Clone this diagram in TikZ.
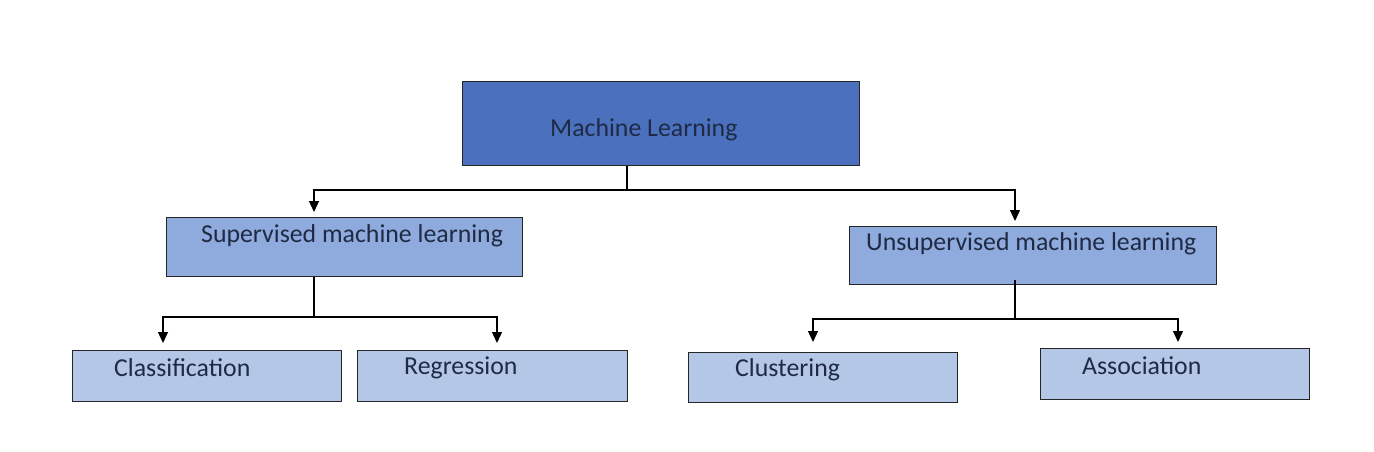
\documentclass[tikz,border=0pt]{standalone}
\usepackage{fontspec}
\setmainfont{Carlito}
\usetikzlibrary{arrows.meta}
\definecolor{topfill}{HTML}{4A70BE}
\definecolor{midfill}{HTML}{8FAADC}
\definecolor{lowfill}{HTML}{B4C7E7}
\definecolor{txt}{HTML}{1F2A44}
\tikzset{
  box/.style={draw=black!85, line width=1.3pt, inner sep=0pt},
  lbl/.style={anchor=west, inner sep=0pt, font=\fontsize{25.8}{30}\selectfont, text=txt},
  conn/.style={draw=black, line width=1.3pt},
  arr/.style={conn, -{Triangle[width=10pt,length=11pt]}}
}
\begin{document}
\begin{tikzpicture}[x=1pt,y=-1pt]
\useasboundingbox (0,0) rectangle (1374,452);
% boxes
\node[box, fill=topfill, minimum width=397pt, minimum height=84pt, anchor=north west] (ml) at (462,81) {};
\node[box, fill=midfill, minimum width=356pt, minimum height=59pt, anchor=north west] (sup) at (166,217) {};
\node[box, fill=midfill, minimum width=367pt, minimum height=58pt, anchor=north west] (uns) at (849,226) {};
\node[box, fill=lowfill, minimum width=269pt, minimum height=51pt, anchor=north west] (cla) at (72,350) {};
\node[box, fill=lowfill, minimum width=270pt, minimum height=51pt, anchor=north west] (reg) at (357,350) {};
\node[box, fill=lowfill, minimum width=269pt, minimum height=50pt, anchor=north west] (clu) at (688,352) {};
\node[box, fill=lowfill, minimum width=269pt, minimum height=51pt, anchor=north west] (ass) at (1040,348) {};
% labels
\node[lbl] (tml) at (550,129.5) {Machine Learning};
\node[lbl] (tsup) at (201,235.5) {Supervised machine learning};
\node[lbl] (tuns) at (866,243.5) {Unsupervised machine learning};
\node[lbl] (tcla) at (114,367.5) {Classification};
\node[lbl] (treg) at (404,367.5) {Regression};
\node[lbl] (tclu) at (735,369.5) {Clustering};
\node[lbl] (tass) at (1082,365.5) {Association};
% connectors
\coordinate (j1) at (627,190);
\coordinate (j1l) at (314,190);
\coordinate (j1r) at (1015,190);
\draw[conn] (ml.south -| j1) -- (j1);
\draw[arr] (j1) -- (j1l) -- (314,212);
\draw[arr] (j1) -- (j1r) -- (1015,221);
\coordinate (j2) at (314,317);
\draw[conn] (sup.south -| j2) -- (j2);
\draw[arr] (j2) -- (163,317) -- (163,343);
\draw[arr] (j2) -- (497,317) -- (497,343);
\coordinate (j3) at (1015,319);
\draw[conn] (1015,280) -- (j3);
\draw[arr] (j3) -- (813,319) -- (813,342);
\draw[arr] (j3) -- (1178,319) -- (1178,342);
\end{tikzpicture}
\end{document}
